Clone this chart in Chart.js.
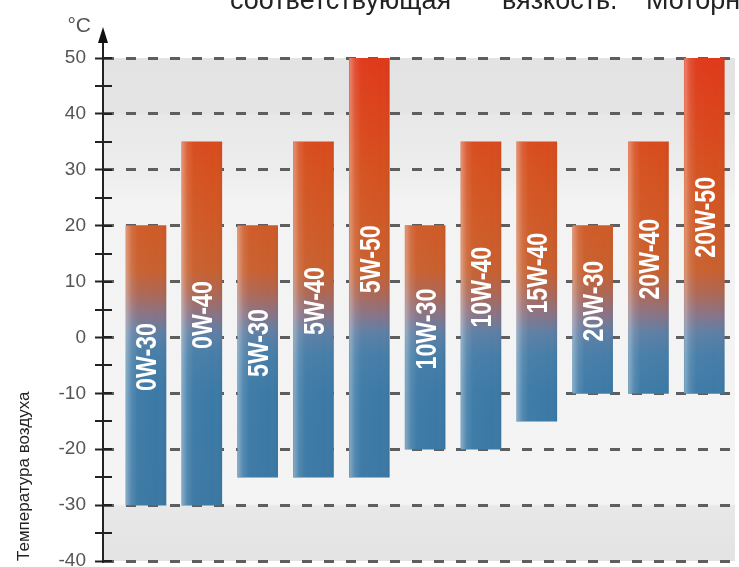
<!DOCTYPE html>
<html>
<head>
<meta charset="utf-8">
<script src="https://cdn.jsdelivr.net/npm/chart.js@4"></script>
<style>
  html, body { margin: 0; padding: 0; background: #fff; overflow: hidden; }
  #wrap { position: relative; width: 739px; height: 567px; }
  #topline { position: absolute; top: -13px; left: 0; width: 739px; height: 27px; line-height: 27px;
             font-family: 'Liberation Sans', Arial, sans-serif; font-size: 27px; color: #222; white-space: nowrap; }
  #topline span { position: absolute; top: 0; }
</style>
</head>
<body>
<div id="wrap">
  <canvas id="myChart"></canvas>
  <div id="topline"><span style="left:230px">соответствующая</span><span style="left:502px">вязкость.</span><span style="left:646px">Моторное</span></div>
</div>
<script>
// data block
const categories = ['0W-30', '0W-40', '5W-30', '5W-40', '5W-50', '10W-30', '10W-40', '15W-40', '20W-30', '20W-40', '20W-50'];
const lowTemps = [-30, -30, -25, -25, -25, -20, -20, -15, -10, -10, -10];
const highTemps = [20, 35, 20, 35, 50, 20, 35, 35, 20, 35, 50];
const yMin = -40;
const yMax = 50;
const yStep = 5;
const yLabelStep = 10;
const axisTitle = 'Температура воздуха';
const unitLabel = '°C';

// colour of the bars by temperature (value -> colour)
const barStops = [
    [50, '#df391a'], [40, '#db441c'], [30, '#d5511f'], [20, '#cf5a27'],
    [12, '#c8602f'], [8, '#ae6753'], [4, '#887487'], [1, '#5f7fa4'],
    [-3, '#477ea8'], [-10, '#3c7aa6'], [-40, '#3a77a2']
];

function barGradient(context) {
    const chart = context.chart;
    const area = chart.chartArea;
    if (!area) return '#cf5a27';
    const y = chart.scales.y;
    const top = y.getPixelForValue(yMax), bottom = y.getPixelForValue(yMin);
    const g = chart.ctx.createLinearGradient(0, top, 0, bottom);
    barStops.forEach(([v, c]) => g.addColorStop((yMax - v) / (yMax - yMin), c));
    return g;
}

//setup block
const bandPlugin = {
    id: 'bands',
    beforeDraw(chart) {
        const {ctx, chartArea} = chart;
        const y = chart.scales.y;
        const top = y.getPixelForValue(yMax), bottom = y.getPixelForValue(yMin);
        const f = v => (yMax - v) / (yMax - yMin);
        const g = ctx.createLinearGradient(0, top, 0, bottom);
        g.addColorStop(f(50), '#e3e3e3');
        g.addColorStop(f(40.2), '#e4e4e4');
        g.addColorStop(f(39.8), '#e8e8e8');
        g.addColorStop(f(30), '#ededed');
        g.addColorStop(f(24), '#f3f3f3');
        g.addColorStop(f(-29.8), '#f4f4f4');
        g.addColorStop(f(-30.2), '#e8e8e8');
        g.addColorStop(f(-40), '#e3e3e3');
        ctx.save();
        ctx.fillStyle = g;
        ctx.fillRect(chartArea.left, top, chartArea.right - chartArea.left, bottom - top);
        ctx.restore();
    },
    afterDraw(chart) {
        const {ctx, chartArea} = chart;
        const y = chart.scales.y;
        const meta = chart.getDatasetMeta(0);
        ctx.save();
        // light edge on each bar
        meta.data.forEach(bar => {
            const l = bar.x - bar.width / 2, r = bar.x + bar.width / 2;
            const top = Math.min(bar.y, bar.base), h = Math.abs(bar.base - bar.y);
            const g = ctx.createLinearGradient(l, 0, r, 0);
            g.addColorStop(0, 'rgba(255,255,255,0.38)');
            g.addColorStop(0.14, 'rgba(255,255,255,0.12)');
            g.addColorStop(0.3, 'rgba(255,255,255,0.02)');
            g.addColorStop(0.8, 'rgba(255,255,255,0)');
            g.addColorStop(1, 'rgba(0,0,0,0.04)');
            ctx.fillStyle = g;
            ctx.fillRect(l, top, r - l, h);
        });
        // grade names inside the bars
        ctx.fillStyle = '#fff';
        ctx.font = 'bold 29px "Liberation Sans", Arial, sans-serif';
        ctx.textAlign = 'center';
        ctx.textBaseline = 'alphabetic';
        meta.data.forEach((bar, i) => {
            const mid = (lowTemps[i] + highTemps[i]) / 2 + 1.5;
            ctx.save();
            ctx.translate(bar.x, y.getPixelForValue(mid));
            ctx.rotate(-Math.PI / 2);
            ctx.scale(0.8, 1);
            ctx.fillText(categories[i], 0, 10.5);
            ctx.restore();
        });
        // axis: right half of ticks, arrow and unit
        const ax = chartArea.left;
        ctx.strokeStyle = '#222';
        ctx.lineWidth = 2;
        y.ticks.forEach(t => {
            const py = Math.round(y.getPixelForValue(t.value));
            ctx.beginPath();
            ctx.moveTo(ax, py);
            ctx.lineTo(ax + 9, py);
            ctx.stroke();
        });
        ctx.beginPath();
        ctx.moveTo(ax, chartArea.top);
        ctx.lineTo(ax, 40);
        ctx.stroke();
        ctx.fillStyle = '#111';
        ctx.beginPath();
        ctx.moveTo(ax, 27);
        ctx.lineTo(ax - 5, 43);
        ctx.lineTo(ax + 5, 43);
        ctx.closePath();
        ctx.fill();
        ctx.fillStyle = '#555';
        ctx.font = '21px "Liberation Sans", Arial, sans-serif';
        ctx.textAlign = 'right';
        ctx.fillText(unitLabel, 91, 32);
        ctx.restore();
    }
};

//config block
const ctx = document.getElementById('myChart').getContext('2d');
const myChart = new Chart(ctx, {
    type: 'bar',
    data: {
        datasets: [{
            label: 'Температура',
            data: categories.map((c, i) => ({x: i, y: [lowTemps[i], highTemps[i]]})),
            backgroundColor: barGradient,
            borderWidth: 0,
            barThickness: 40
        }]
    },
    plugins: [bandPlugin],
    options: {
        responsive: true,
        maintainAspectRatio: false,
        animation: false,
        layout: { padding: { top: 58, bottom: 6, right: 4, left: 0 } },
        plugins: { legend: { display: false }, tooltip: { enabled: false } },
        scales: {
            x: {
                type: 'linear',
                display: false,
                offset: false,
                min: -0.77,
                max: 10.55
            },
            y: {
                min: yMin,
                max: yMax,
                afterFit(scale) {
                    scale.width = 103;
                    scale.paddingTop = 0;
                    scale.paddingBottom = 0;
                },
                ticks: {
                    stepSize: yStep,
                    autoSkip: false,
                    padding: 9,
                    color: '#555',
                    font: { family: 'Liberation Sans', size: 19 },
                    callback: v => (v % yLabelStep === 0 ? String(v) : '')
                },
                grid: {
                    color: c => (c.tick && c.tick.value % yLabelStep === 0 ? '#5e5e5e' : 'rgba(0,0,0,0)'),
                    lineWidth: c => (c.tick && c.tick.value % yLabelStep === 0 ? 3 : 0),
                    tickLength: 8,
                    tickWidth: 2,
                    tickColor: '#222',
                    drawTicks: true
                },
                border: { display: true, color: '#222', width: 2, dash: [10, 12] },
                title: {
                    display: true,
                    text: axisTitle,
                    align: 'start',
                    color: '#222',
                    font: { family: 'Liberation Sans', size: 17 },
                    padding: { top: 14, bottom: 0 }
                }
            }
        }
    }
});
</script>
</body>
</html>
